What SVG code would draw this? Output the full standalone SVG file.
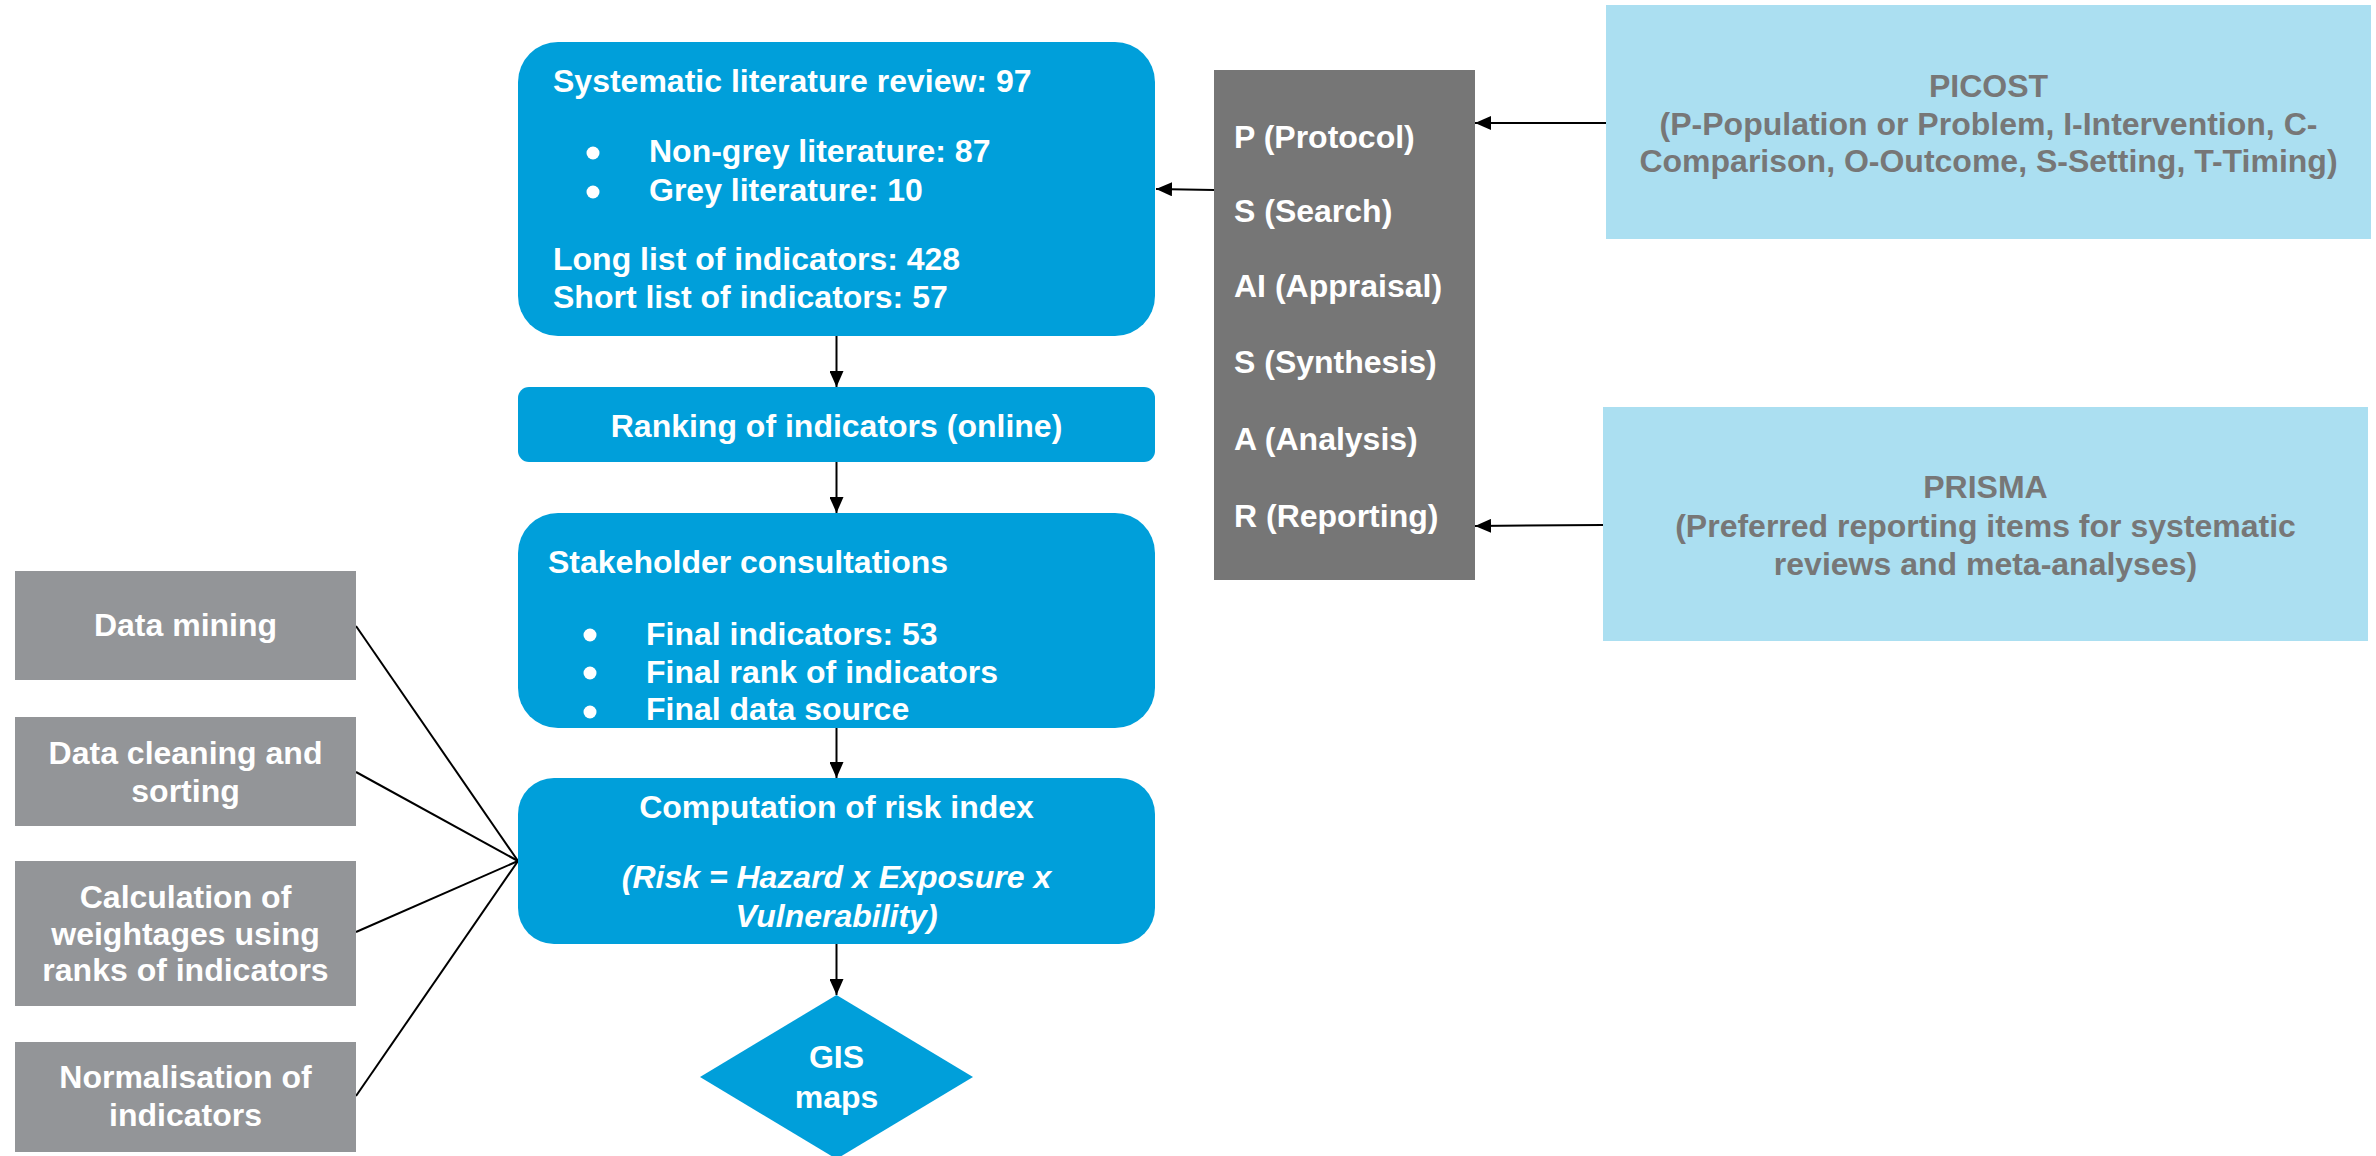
<svg xmlns="http://www.w3.org/2000/svg" width="2376" height="1156" viewBox="0 0 2376 1156">
<defs>
<style>
.t{font-family:"Liberation Sans",Arial,sans-serif;font-weight:bold;font-size:32px}
.w{fill:#ffffff}
.g{fill:#777777}
.c{text-anchor:middle}
.blue{fill:#009FDA}
.lg{fill:#939598}
.dg{fill:#767676}
.lb{fill:#ABDFF1}
.ln{stroke:#000;stroke-width:2;fill:none}
</style>
<marker id="ah" viewBox="0 0 16 14" refX="16" refY="7" markerWidth="16" markerHeight="14" markerUnits="userSpaceOnUse" orient="auto">
<path d="M0,0 L16,7 L0,14 Z" fill="#000"/>
</marker>
</defs>
<rect width="2376" height="1156" fill="#ffffff"/>

<g id="connectors">
<line class="ln" x1="836.5" y1="336" x2="836.5" y2="387" marker-end="url(#ah)"/>
<line class="ln" x1="836.5" y1="462" x2="836.5" y2="513" marker-end="url(#ah)"/>
<line class="ln" x1="836.5" y1="728" x2="836.5" y2="778" marker-end="url(#ah)"/>
<line class="ln" x1="836.5" y1="944" x2="836.5" y2="995" marker-end="url(#ah)"/>
<line class="ln" x1="1214" y1="190" x2="1156" y2="189" marker-end="url(#ah)"/>
<line class="ln" x1="1606" y1="123" x2="1475" y2="123" marker-end="url(#ah)"/>
<line class="ln" x1="1603" y1="525" x2="1475" y2="526" marker-end="url(#ah)"/>
<line class="ln" x1="356" y1="626" x2="518" y2="861"/>
<line class="ln" x1="356" y1="772" x2="518" y2="861"/>
<line class="ln" x1="356" y1="932" x2="518" y2="861"/>
<line class="ln" x1="356" y1="1096" x2="518" y2="861"/>
</g>

<g id="literature-review">
<rect class="blue" x="518" y="42" width="637" height="294" rx="40" ry="40"/>
<text class="t w" x="553" y="92">Systematic literature review: 97</text>
<circle class="w" cx="593" cy="153" r="6.5"/>
<text class="t w" x="649" y="162">Non-grey literature: 87</text>
<circle class="w" cx="593" cy="192" r="6.5"/>
<text class="t w" x="649" y="201">Grey literature: 10</text>
<text class="t w" x="553" y="270">Long list of indicators: 428</text>
<text class="t w" x="553" y="308">Short list of indicators: 57</text>
</g>

<g id="ranking">
<rect class="blue" x="518" y="387" width="637" height="75" rx="11" ry="11"/>
<text class="t w c" x="836.5" y="437">Ranking of indicators (online)</text>
</g>

<g id="stakeholder">
<rect class="blue" x="518" y="513" width="637" height="215" rx="40" ry="40"/>
<text class="t w" x="548" y="573">Stakeholder consultations</text>
<circle class="w" cx="590" cy="635" r="6.5"/>
<text class="t w" x="646" y="645">Final indicators: 53</text>
<circle class="w" cx="590" cy="673" r="6.5"/>
<text class="t w" x="646" y="683">Final rank of indicators</text>
<circle class="w" cx="590" cy="712" r="6.5"/>
<text class="t w" x="646" y="720">Final data source</text>
</g>

<g id="risk-index">
<rect class="blue" x="518" y="778" width="637" height="166" rx="36" ry="36"/>
<text class="t w c" x="836.5" y="818">Computation of risk index</text>
<text class="t w c" x="836.5" y="888" font-style="italic">(Risk = Hazard x Exposure x</text>
<text class="t w c" x="836.5" y="927" font-style="italic">Vulnerability)</text>
</g>

<g id="gis-maps">
<polygon class="blue" points="836.5,995 973,1077 836.5,1159 700,1077"/>
<text class="t w c" x="836.5" y="1068">GIS</text>
<text class="t w c" x="836.5" y="1108">maps</text>
</g>

<g id="data-mining">
<rect class="lg" x="15" y="571" width="341" height="109"/>
<text class="t w c" x="185.5" y="636">Data mining</text>
</g>
<g id="data-cleaning">
<rect class="lg" x="15" y="717" width="341" height="109"/>
<text class="t w c" x="185.5" y="764">Data cleaning and</text>
<text class="t w c" x="185.5" y="802">sorting</text>
</g>
<g id="weightages">
<rect class="lg" x="15" y="861" width="341" height="145"/>
<text class="t w c" x="185.5" y="908">Calculation of</text>
<text class="t w c" x="185.5" y="945">weightages using</text>
<text class="t w c" x="185.5" y="981">ranks of indicators</text>
</g>
<g id="normalisation">
<rect class="lg" x="15" y="1042" width="341" height="110"/>
<text class="t w c" x="185.5" y="1088">Normalisation of</text>
<text class="t w c" x="185.5" y="1126">indicators</text>
</g>

<g id="psalsar">
<rect class="dg" x="1214" y="70" width="261" height="510"/>
<text class="t w" x="1234" y="148">P (Protocol)</text>
<text class="t w" x="1234" y="222">S (Search)</text>
<text class="t w" x="1234" y="297">AI (Appraisal)</text>
<text class="t w" x="1234" y="373">S (Synthesis)</text>
<text class="t w" x="1234" y="450">A (Analysis)</text>
<text class="t w" x="1234" y="527">R (Reporting)</text>
</g>

<g id="picost">
<rect class="lb" x="1606" y="5" width="765" height="234"/>
<text class="t g c" x="1988.5" y="97">PICOST</text>
<text class="t g c" x="1988.5" y="135">(P-Population or Problem, I-Intervention, C-</text>
<text class="t g c" x="1988.5" y="172">Comparison, O-Outcome, S-Setting, T-Timing)</text>
</g>

<g id="prisma">
<rect class="lb" x="1603" y="407" width="765" height="234"/>
<text class="t g c" x="1985.5" y="498">PRISMA</text>
<text class="t g c" x="1985.5" y="537">(Preferred reporting items for systematic</text>
<text class="t g c" x="1985.5" y="575">reviews and meta-analyses)</text>
</g>
</svg>
